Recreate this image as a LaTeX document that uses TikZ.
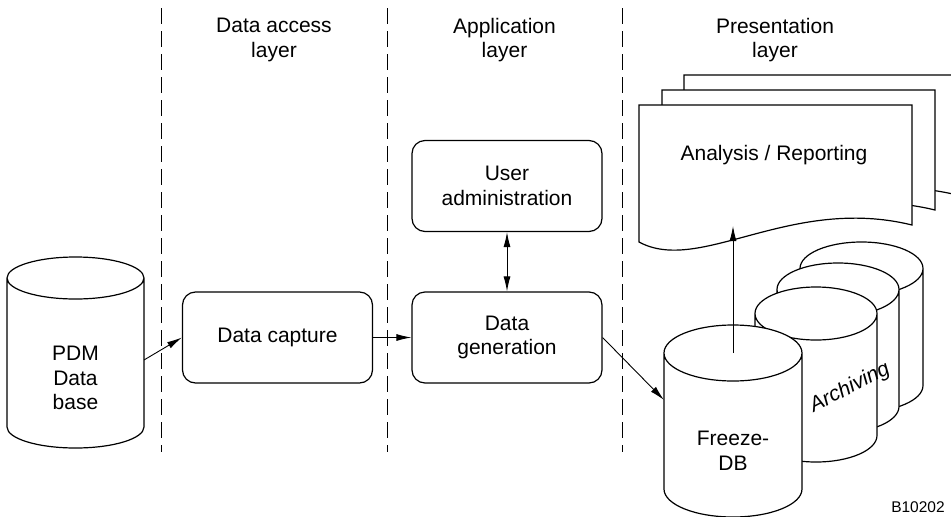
\documentclass[tikz,border=0pt]{standalone}
\usepackage{fontspec}
\setmainfont{Liberation Sans}
\usetikzlibrary{arrows.meta}

\begin{document}
\begin{tikzpicture}[x=1pt,y=-1pt,->,>={Latex[length=15pt,width=7pt]},line width=0.9pt,
  every node/.style={font=\fontsize{21}{24.5}\selectfont,align=center},
  box/.style={shape=rectangle,draw=black,line width=1.2pt,rounded corners=13pt,minimum width=190pt,minimum height=91pt},
  dbline/.style={draw=black,fill=white,line width=1.2pt,-},
  sheet/.style={draw=black,fill=white,line width=1.2pt,-}]
                \useasboundingbox (0,0) rectangle (951,517);
                \clip (0,0) rectangle (951,517);
                % layer borders
                \foreach \lx in {161,387,622}
                  \draw[-,line width=1pt,dash pattern=on 16pt off 7pt] (\lx,8) -- (\lx,452);
                \node(AccessHead)at(274, 40){Data access\\layer};
                \node(ApplHead)at(504.5, 40){Application\\layer};
                \node(PresHead)at(775, 40){Presentation\\layer};
                % report sheets
                \draw[sheet,shift={(45,-30)}] (639,105) -- (912,105) -- (912,225) .. controls (790,195) and (700,275) .. (639,242) -- cycle;
                \draw[sheet,shift={(23,-15)}] (639,105) -- (912,105) -- (912,225) .. controls (790,195) and (700,275) .. (639,242) -- cycle;
                \draw[sheet] (639,105) -- (912,105) -- (912,225) .. controls (790,195) and (700,275) .. (639,242) -- cycle;
                \node(Report)at(774, 155){Analysis / Reporting};
                \coordinate(ReportEdge)at(733, 226);
                % databases
                \draw[dbline] (7,278) -- ++(0,149) arc[start angle=180,end angle=360,x radius=68.5pt,y radius=21pt] -- ++(0,-149) arc[start angle=0,end angle=180,x radius=68.5pt,y radius=21pt] -- cycle
                  (7,278) arc[start angle=180,end angle=360,x radius=68.5pt,y radius=21pt];
                \node(PDM)at(75.5, 378){PDM\\Data\\base};
                \coordinate(PDMPort)at(144, 360);
                \draw[dbline] (800,268.5) -- ++(0,117) arc[start angle=180,end angle=360,x radius=61.5pt,y radius=26.5pt] -- ++(0,-117) arc[start angle=0,end angle=180,x radius=61.5pt,y radius=26.5pt] -- cycle
                  (800,268.5) arc[start angle=180,end angle=360,x radius=61.5pt,y radius=26.5pt];
                \draw[dbline] (777,289.5) -- ++(0,117) arc[start angle=180,end angle=360,x radius=61pt,y radius=26.5pt] -- ++(0,-117) arc[start angle=0,end angle=180,x radius=61pt,y radius=26.5pt] -- cycle
                  (777,289.5) arc[start angle=180,end angle=360,x radius=61pt,y radius=26.5pt];
                \draw[dbline] (755,313.5) -- ++(0,122) arc[start angle=180,end angle=360,x radius=61pt,y radius=26.5pt] -- ++(0,-122) arc[start angle=0,end angle=180,x radius=61pt,y radius=26.5pt] -- cycle
                  (755,313.5) arc[start angle=180,end angle=360,x radius=61pt,y radius=26.5pt];
                \node[rotate=27,font=\fontsize{21}{24}\selectfont\itshape](Archive)at(850, 388){Archiving};
                \draw[dbline] (664,353) -- ++(0,136) arc[start angle=180,end angle=360,x radius=69pt,y radius=28pt] -- ++(0,-136) arc[start angle=0,end angle=180,x radius=69pt,y radius=28pt] -- cycle
                  (664,353) arc[start angle=180,end angle=360,x radius=69pt,y radius=28pt];
                \node(Freeze)at(733, 451){Freeze-\\DB};
                \coordinate(FreezePort)at(664, 400);
                \coordinate(FreezeTop)at(733, 353);
                % processing boxes
                \node[box](Capture)at(277.5, 337.5){Data capture};
                \node[box](Generation)at(507, 337.5){Data\\generation};
                \node[box](UserAdmin)at(507, 186){User\\administration};
                \node[font=\fontsize{15.5}{18}\selectfont](Code)at(918, 507){B10202};
                \path (PDMPort) edge (Capture.west)
                (Capture.east) edge (Generation.west)
                (UserAdmin.south) edge [<->] (Generation.north)
                (Generation.east) edge (FreezePort)
                (FreezeTop) edge (ReportEdge);
            \end{tikzpicture}
\end{document}
